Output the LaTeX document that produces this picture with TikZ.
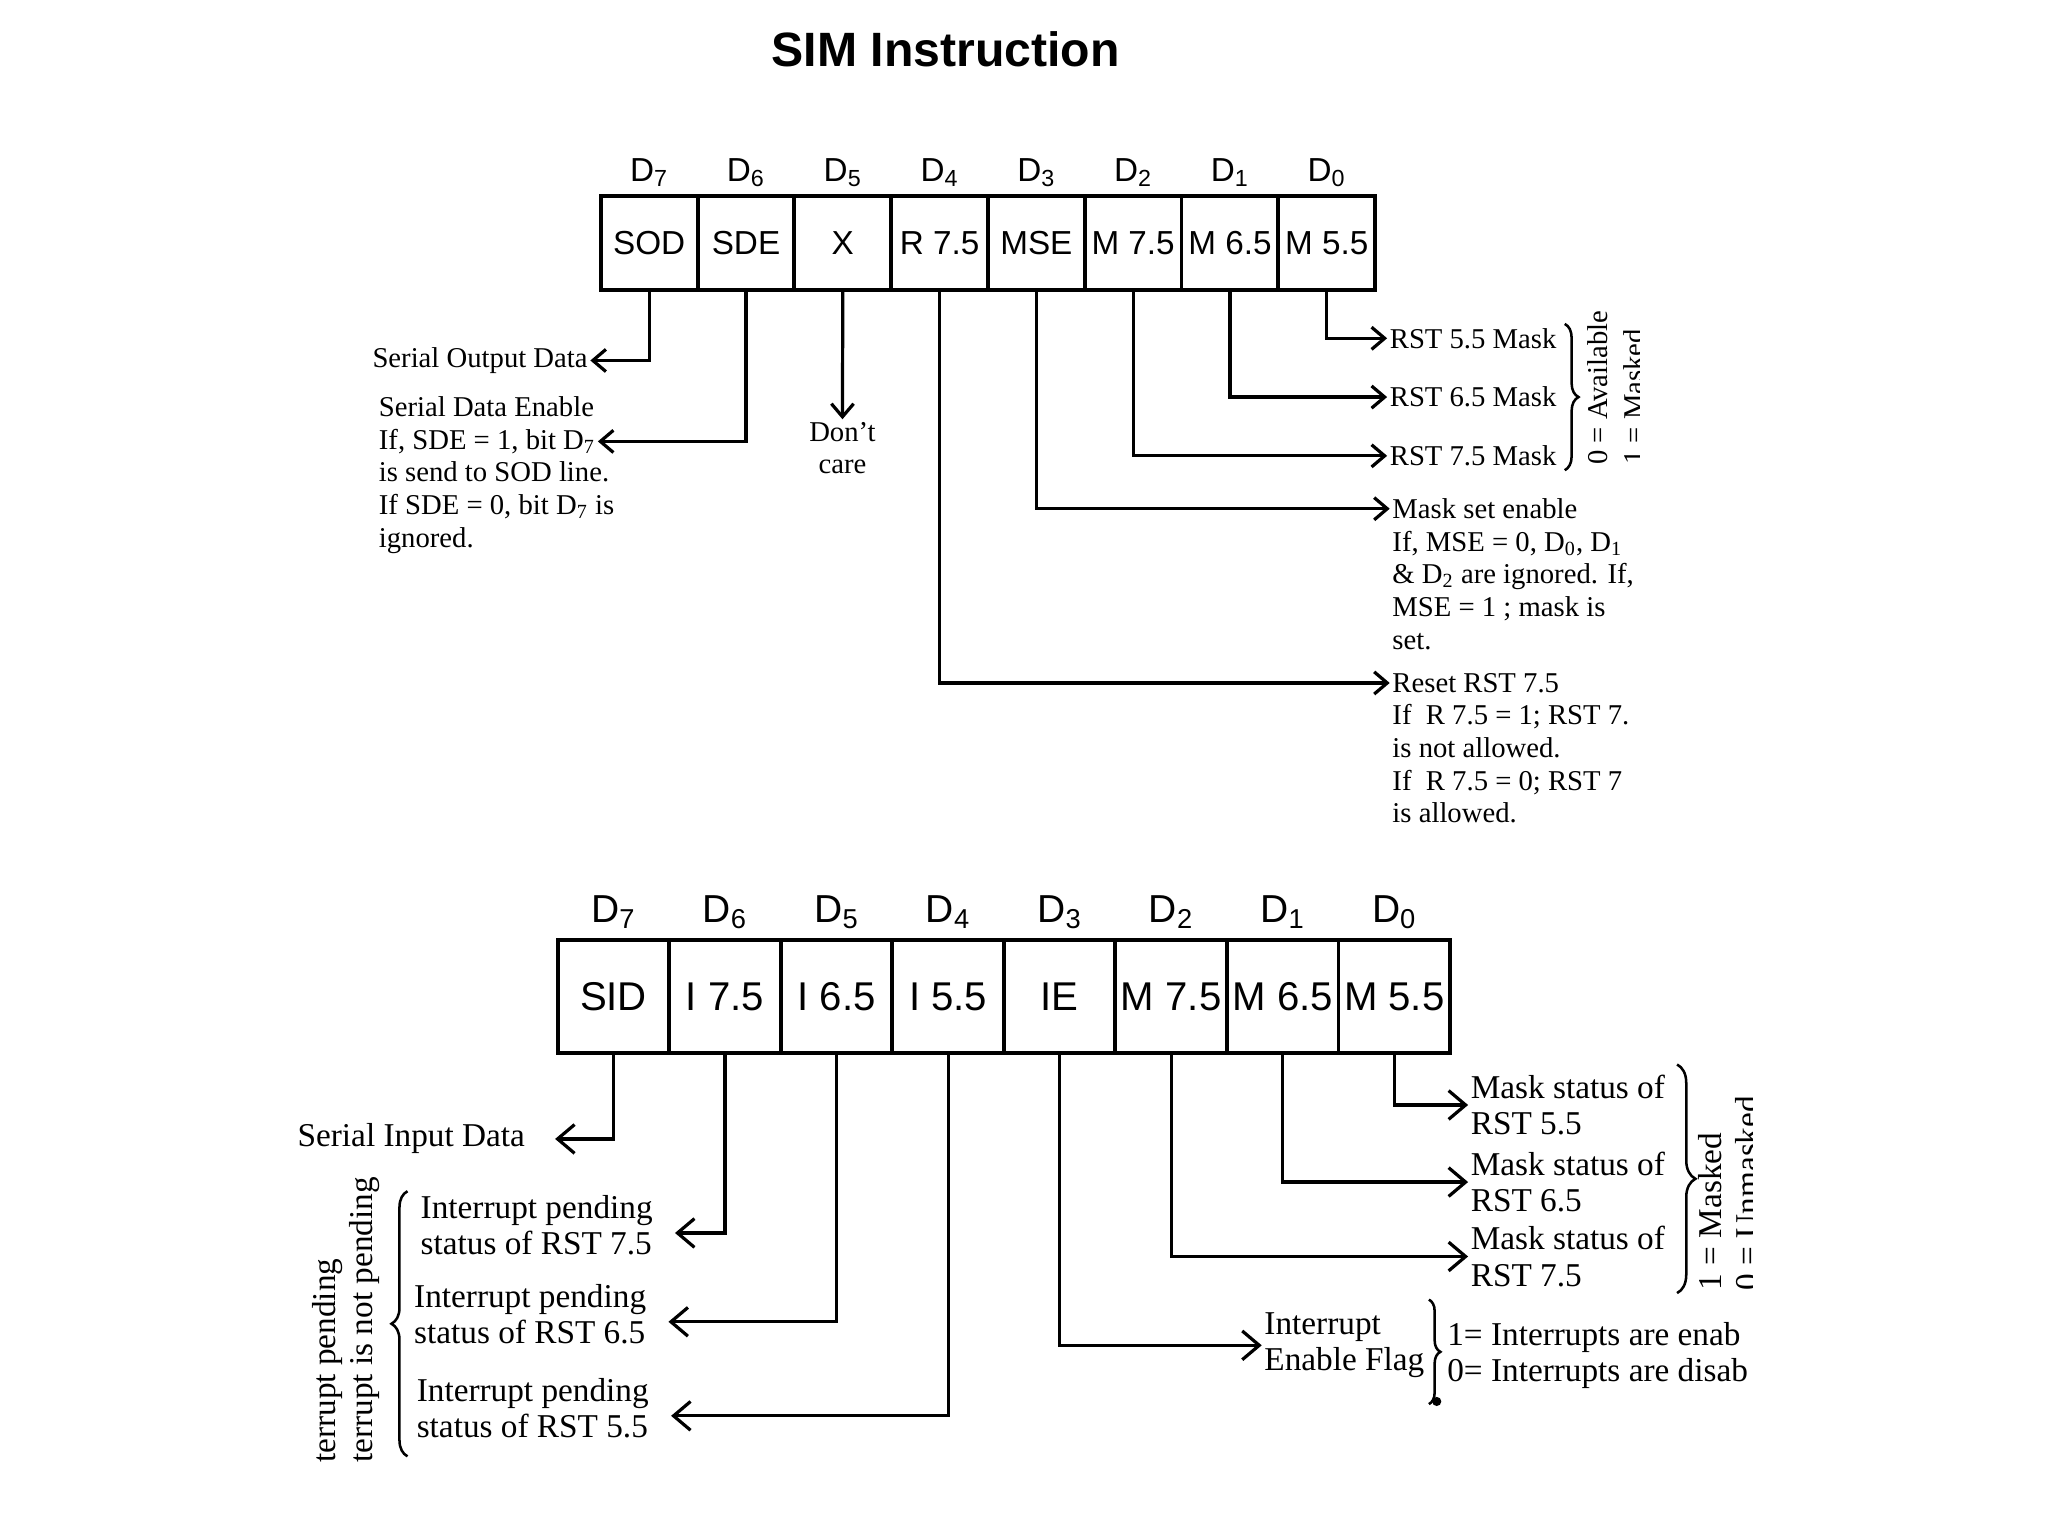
\documentclass[tikz,border=0pt]{standalone}
\usepackage{fontspec}
\setmainfont{Liberation Serif}
\setsansfont{Liberation Sans}
\usetikzlibrary{arrows.meta, decorations.pathreplacing, positioning}
\tikzset{
  every node/.append style={inner sep=1pt},
  regcell/.style={draw, line width=1.7pt, inner sep=0pt},
  topcell/.style={regcell, minimum width=1.482cm, minimum height=1.44cm, font=\sffamily\fontsize{14.5}{17}\selectfont},
  botcell/.style={regcell, minimum width=1.708cm, minimum height=1.72cm, font=\sffamily\fontsize{17.5}{20}\selectfont},
  topbit/.style={anchor=base, font=\sffamily\fontsize{14.5}{17}\selectfont},
  botbit/.style={anchor=base, font=\sffamily\fontsize{17}{20}\selectfont},
  note/.style={font=\fontsize{12.5}{14.2}\selectfont, align=left},
  bignote/.style={font=\fontsize{14.5}{15.9}\selectfont, align=left},
  bitline/.style={-{Straight Barb[length=2mm,width=3.4mm]}, line width=1.4pt},
  bigline/.style={-{Straight Barb[length=2.6mm,width=4.4mm]}, line width=1.4pt},
  curly/.style={decorate, decoration={brace, amplitude=#1}, line width=1.1pt},
}
\begin{document}
\begin{tikzpicture}[x=0.02cm, y=-0.02cm]
    \fill[white] (0,0) rectangle (1568,1176);
    \node[font=\sffamily\bfseries\fontsize{21}{24}\selectfont] (title) at (724,38) {SIM Instruction};

    % upper register
    \foreach \lab [count=\i from 0] in {SOD,SDE,X,R 7.5,MSE,M 7.5,M 6.5,M 5.5} {
        \pgfmathtruncatemacro{\bit}{7-\i}
        \node[topcell] (t\i) at ({497.05+74.1*\i},186) {\lab};
        \node[topbit] (td\i) at ({497.05+74.1*\i},139) {D\textsubscript{\bit}};
    }
    \node[note, anchor=east] (sodout) at (452,276) {Serial Output Data};
    \foreach \txt [count=\k from 0] in {Serial Data Enable, {If, SDE = 1, bit D\textsubscript{7}}, is send to SOD line., {If SDE = 0, bit D\textsubscript{7} is}, ignored.}
        \node[note, anchor=base west] (sde\k) at (288,{319+25*\k}) {\txt};
    \node[note, align=center, anchor=north] (dc) at (645,321) {Don't\\care};
    \node[note, anchor=west] (m55) at (1062,259) {RST 5.5 Mask};
    \node[note, anchor=west] (m65) at (1062,304) {RST 6.5 Mask};
    \node[note, anchor=west] (m75) at (1062,349) {RST 7.5 Mask};
    \foreach \txt [count=\k from 0] in {Mask set enable, {If, MSE = 0, D\textsubscript{0}, D\textsubscript{1}}, {\& D\textsubscript{2} are ignored. If,}, {MSE = 1 ; mask is}, set.}
        \node[note, anchor=base west] (mse\k) at (1064,{397+25*\k}) {\txt};
    \foreach \txt [count=\k from 0] in {Reset RST 7.5, {If~~R 7.5 = 1; RST 7.}, is not allowed., {If~~R 7.5 = 0; RST 7}, is allowed.}
        \node[note, anchor=base west] (rst\k) at (1064,{530+25*\k}) {\txt};

    \draw[bitline] (t0.south) |- (sodout.east);
    \draw[bitline] (t1.south) |- (sde1.east);
    \draw[bitline] (t2.south) -- (dc.north);
    \draw[bitline] (t3.south) |- (rst0.west);
    \draw[bitline] (t4.south) |- (mse0.west);
    \draw[bitline] (t5.south) |- (m75.west);
    \draw[bitline] (t6.south) |- (m65.west);
    \draw[bitline] (t7.south) |- (m55.west);

    \draw[curly=6pt] (1198,248) -- (1198,360);
    \node[note, rotate=90, anchor=base west] (avail) at (1231,358) {0 = Available};
    \begin{scope}
        \clip (1200,200) rectangle (1255,400);
        \node[note, rotate=90, anchor=base west] (maskt) at (1258,358) {1 = Masked};
    \end{scope}

    % lower register
    \foreach \lab [count=\i from 0] in {SID,I 7.5,I 6.5,I 5.5,IE,M 7.5,M 6.5,M 5.5} {
        \pgfmathtruncatemacro{\bit}{7-\i}
        \node[botcell] (b\i) at ({469.7+85.4*\i},763) {\lab};
        \node[botbit] (bd\i) at ({469.7+85.4*\i},706) {D\textsubscript{\bit}};
    }
    \node[bignote, anchor=east] (sidin) at (404,872) {Serial Input Data};
    \foreach \rst/\x/\y [count=\k] in {7.5/320/938, 6.5/315/1006, 5.5/317/1078}
        \node[bignote, anchor=west] (ip\k) at (\x,\y) {Interrupt pending\\status of RST \rst};
    \foreach \rst/\y [count=\k] in {5.5/846, 6.5/905, 7.5/962}
        \node[bignote, anchor=west] (ms\k) at (1124,\y) {Mask status of\\RST \rst};
    \node[bignote, anchor=west] (ief) at (966,1030) {Interrupt\\Enable Flag};
    \node[bignote, anchor=base west] (ieon) at (1106,1030) {1= Interrupts are enab};
    \node[bignote, anchor=base west] (ieoff) at (1106,1058) {0= Interrupts are disab};

    \draw[bigline] (b0.south) |- ([xshift=0.42cm]sidin.east);
    \foreach \k in {1,2,3}
        \draw[bigline] (b\k.south) |- ([xshift=0.3cm,yshift=-0.12cm]ip\k.east);
    \draw[bigline] (b4.south) |- (ief.west);
    \draw[bigline] (b5.south) |- (ms3.west);
    \draw[bigline] (b6.south) |- (ms2.west);
    \draw[bigline] (b7.south) |- (ms1.west);

    \draw[curly=7pt] (312,1115) -- (312,912);
    \node[bignote, rotate=90, anchor=base west] (ipyes) at (257,1122) {terrupt pending};
    \node[bignote, rotate=90, anchor=base west] (ipno) at (285,1122) {terrupt is not pending};
    \draw[curly=5pt] (1094,995) -- (1094,1075);
    \fill (1100,1073) circle (0.07cm);
    \draw[curly=8pt] (1284,815) -- (1284,990);
    \node[bignote, rotate=90, anchor=base west] (maskb) at (1318,990) {1 = Masked};
    \begin{scope}
        \clip (1300,700) rectangle (1342,1100);
        \node[bignote, rotate=90, anchor=base west] (unmaskb) at (1346,990) {0 = Unmasked};
    \end{scope}
\end{tikzpicture}
\end{document}
